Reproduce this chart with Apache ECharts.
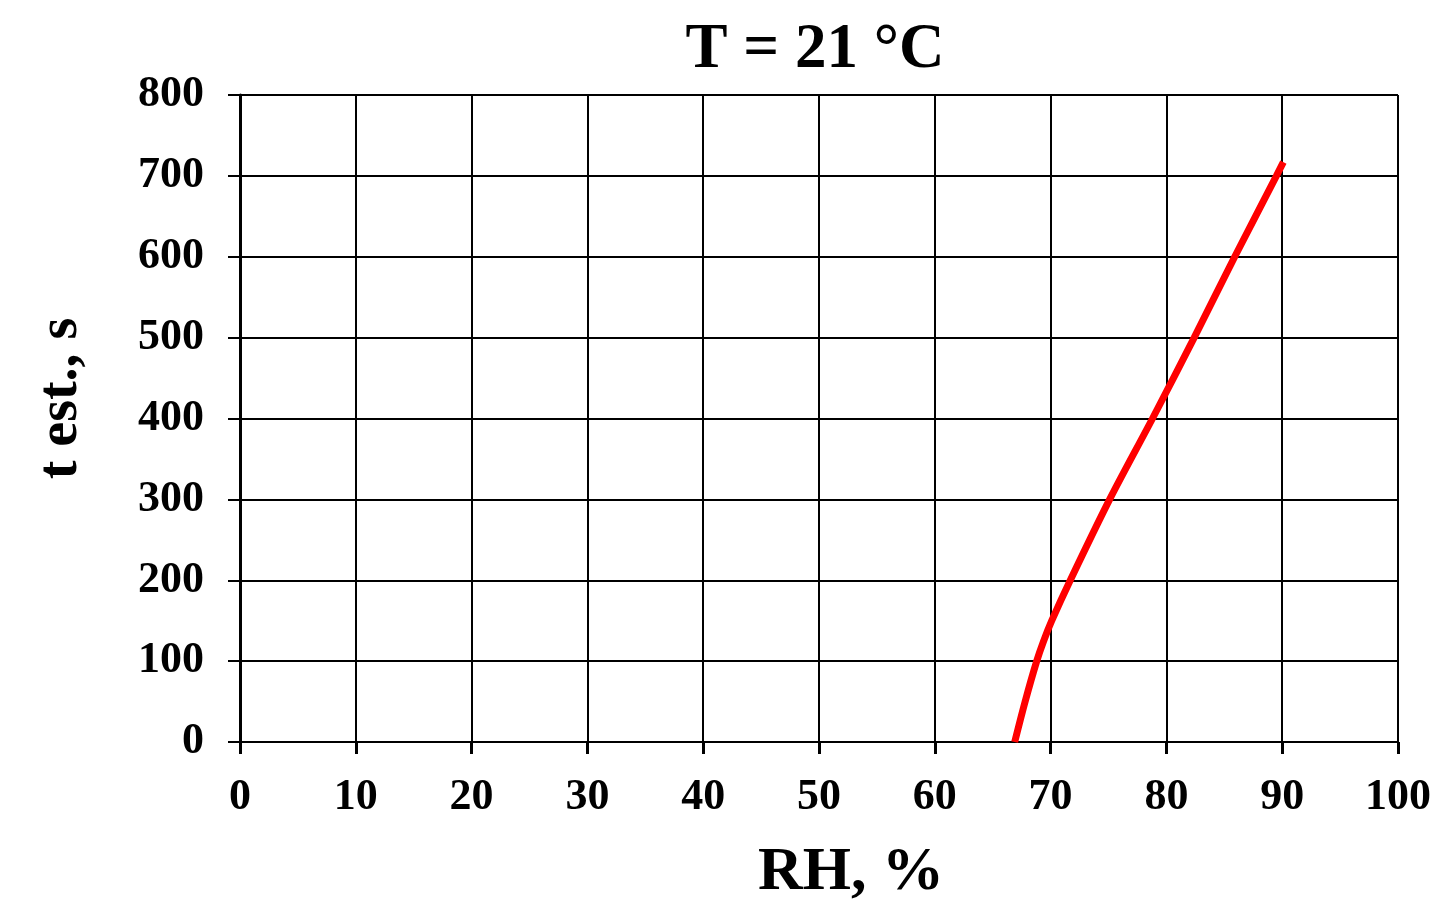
<!DOCTYPE html>
<html><head><meta charset="utf-8">
<script src="https://cdn.jsdelivr.net/npm/echarts@6/dist/echarts.min.js"></script>
<style>html,body{margin:0;padding:0;background:#fff}#c{width:1431px;height:900px}</style>
</head><body><div id="c"></div>
<script>
const titleText = 'T = 21 °C';
const xName = 'RH, %';
const yName = 't est., s';
const rh = [66.9, 67.8, 68.8, 69.4, 70.1, 71.7, 75.1, 78.8, 82.4, 85.9, 89.5, 90.1];
const tEst = [0, 50, 100, 125, 150, 200, 300, 400, 500, 600, 700, 717];
const data = rh.map((v, i) => [v, tEst[i]]);
const font = 'Liberation Serif';
const chart = echarts.init(document.getElementById('c'));
chart.setOption({
  animation: false,
  backgroundColor: '#fff',
  title: { text: titleText, left: 810, top: 14, textAlign: 'center',
    textStyle: { fontFamily: font, fontWeight: 'bold', fontSize: 63, color: '#000' } },
  grid: { left: 240, right: 33, top: 95, bottom: 158, containLabel: false, outerBoundsMode: 'none' },
  xAxis: { type: 'value', min: 0, max: 100, interval: 10,
    name: xName, nameLocation: 'middle', nameGap: 100,
    nameTextStyle: { fontFamily: font, fontWeight: 'bold', fontSize: 62, color: '#000', padding: [0, 0, 0, 64] },
    axisLine: { lineStyle: { color: '#000', width: 2 } },
    axisTick: { show: true, length: 12, lineStyle: { color: '#000', width: 3 } },
    axisLabel: { fontFamily: font, fontWeight: 'bold', fontSize: 44, color: '#000', margin: 34, hideOverlap: false },
    splitLine: { show: true, lineStyle: { color: '#000', width: 2 } } },
  yAxis: { type: 'value', min: 0, max: 800, interval: 100,
    name: yName, nameLocation: 'middle', nameGap: 150, nameRotate: 90,
    nameTextStyle: { fontFamily: font, fontWeight: 'bold', fontSize: 56, color: '#000', padding: [0, 0, 0, 40] },
    axisLine: { show: true, lineStyle: { color: '#000', width: 3 } },
    axisTick: { show: true, length: 12, lineStyle: { color: '#000', width: 2 } },
    axisLabel: { fontFamily: font, fontWeight: 'bold', fontSize: 44, color: '#000', margin: 36 },
    splitLine: { show: true, lineStyle: { color: '#000', width: 2 } } },
  series: [{ type: 'line', data: data, smooth: 0.3, showSymbol: false,
    lineStyle: { color: '#ff0000', width: 7 } }]
});
</script></body></html>
